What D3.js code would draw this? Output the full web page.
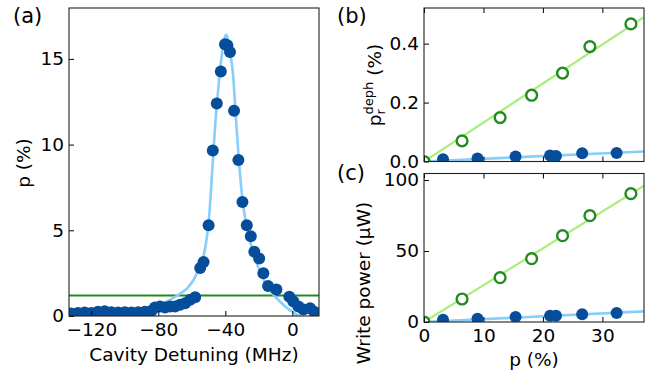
<!DOCTYPE html>
<html>
<head>
<meta charset="utf-8">
<script src="https://cdn.jsdelivr.net/npm/d3@7"></script>
<style>
  body { margin: 0; background: #fff; }
  svg text { font-family: "DejaVu Sans", sans-serif; fill: #000; }
</style>
</head>
<body>
<div id="chart"></div>
<script>
// panel (a): excitation probability vs cavity detuning
var detuning = [-132, -128, -124, -120, -116, -112, -108, -104, -100, -96, -92, -88, -84,
  -82, -79, -76, -73, -70, -67, -64, -61, -58, -55, -53, -50, -47.5, -45.1, -42.7,
  -40.2, -38.8, -37.2, -34.8, -32.2, -29.8, -27.2, -24.8, -22.7, -19.8, -17.3, -14.5,
  -9.5, -1.8, 0.6, 3.6, 6.6, 10.6, 13];
var pExc = [0.15, 0.18, 0.2, 0.17, 0.25, 0.28, 0.22, 0.2, 0.22, 0.2, 0.22, 0.25, 0.3,
  0.5, 0.55, 0.5, 0.55, 0.55, 0.65, 0.75, 0.95, 1.1, 2.8, 3.15, 5.3, 9.65, 12.4, 14.26,
  15.85, 15.8, 15.4, 11.98, 9.1, 6.65, 5.3, 4.65, 3.75, 3.35, 2.5, 1.75,
  1.55, 1.12, 0.85, 0.55, 0.38, 0.45, 0.25];
var fitDetuning = [-133, -120, -105, -95, -88, -82, -77, -72, -67, -63, -59, -56, -53, -51,
  -49.5, -48, -46, -44, -42, -40.5, -39.3, -38, -37, -35.5, -33.5, -32, -30, -28, -26,
  -24, -21, -18, -15, -11, -7, -3, 0, 4, 10, 16];
var fitP = [0.1, 0.15, 0.22, 0.3, 0.4, 0.55, 0.75, 1.0, 1.3, 1.6, 2.1, 2.7, 3.5, 4.6,
  6.0, 8.2, 11.2, 13.5, 15.3, 16.2, 16.4, 15.9, 15.3, 14.2, 11.3, 9.2, 7.0, 5.6, 4.7,
  3.9, 3.0, 2.3, 1.7, 1.2, 0.8, 0.45, 0.25, 0.0, -0.3, -0.5];
var thresholdP = 1.2;
var xTicksA = [-120, -80, -40, 0];
var yTicksA = [0, 5, 10, 15];

// panels (b) and (c): against p
var pGreen = [0, 6.4, 12.8, 18.1, 23.3, 27.9, 34.8];
var pBlue = [3.2, 9.0, 15.4, 21.2, 22.2, 26.6, 32.4];
var dephGreen = [0, 0.07, 0.149, 0.225, 0.30, 0.39, 0.467];
var dephBlue = [0.008, 0.010, 0.017, 0.020, 0.019, 0.028, 0.029];
var powerGreen = [0, 16.2, 31.2, 44.6, 60.8, 74.9, 90.4];
var powerBlue = [1.6, 2.3, 3.5, 4.4, 4.4, 5.4, 6.3];
var fitRange = [0, 37];
var dephGreenFit = [0, 0.49];
var dephBlueFit = [0, 0.034];
var powerGreenFit = [0, 96];
var powerBlueFit = [0, 7.5];
var xTicksBC = [0, 10, 20, 30];
var yTicksB = [0, 0.2, 0.4];
var yTicksC = [0, 50, 100];

var darkBlue = "#064e9b", lightBlue = "#87cefa", darkGreen = "#228b22", lightGreen = "#a8ee7c";
var fs = 18.5;

var svg = d3.select("#chart").append("svg").attr("width", 654).attr("height", 377);

var xA = d3.scaleLinear().domain([-133.3, 15.9]).range([69, 319]);
var yA = d3.scaleLinear().domain([0, 17.97]).range([316, 8]);
var xB = d3.scaleLinear().domain([0, 37]).range([424, 644]);
var yB = d3.scaleLinear().domain([0, 0.521]).range([161.5, 8]);
var yC = d3.scaleLinear().domain([0, 104.6]).range([322, 173.5]);

var defs = svg.append("defs");
function clip(id, x, y) {
  defs.append("clipPath").attr("id", id).append("rect")
    .attr("x", x.range()[0]).attr("y", y.range()[1])
    .attr("width", x.range()[1] - x.range()[0]).attr("height", y.range()[0] - y.range()[1]);
}
clip("ca", xA, yA); clip("cb", xB, yB); clip("cc", xB, yC);

function axes(x, y, xt, yt, yfmt, showX, topTicks) {
  var gx = svg.append("g").attr("transform", "translate(0," + y.range()[0] + ")")
    .call(d3.axisBottom(x).tickValues(xt).tickSize(-5).tickPadding(7)
      .tickFormat(showX ? d3.format("d") : ""));
  var gy = svg.append("g").attr("transform", "translate(" + x.range()[0] + ",0)")
    .call(d3.axisLeft(y).tickValues(yt).tickSize(-5).tickPadding(5).tickFormat(yfmt));
  var gs = [gx, gy];
  if (topTicks) {
    gs.push(svg.append("g").attr("transform", "translate(0," + y.range()[1] + ")")
      .call(d3.axisTop(x).tickValues(xt).tickSize(-5).tickFormat("")));
  }
  gs.forEach(function (g) {
    g.select(".domain").remove();
    g.selectAll("line").attr("stroke", "#000").attr("stroke-width", 1);
    g.selectAll("text").attr("font-size", fs).attr("font-family", "DejaVu Sans").attr("fill", "#000");
  });
  svg.append("rect").attr("x", x.range()[0]).attr("y", y.range()[1])
    .attr("width", x.range()[1] - x.range()[0]).attr("height", y.range()[0] - y.range()[1])
    .attr("fill", "none").attr("stroke", "#222").attr("stroke-width", 1.1);
}

// ---- panel (a)
var pa = svg.append("g").attr("clip-path", "url(#ca)");
pa.append("line").attr("x1", xA.range()[0]).attr("x2", xA.range()[1])
  .attr("y1", yA(thresholdP)).attr("y2", yA(thresholdP))
  .attr("stroke", darkGreen).attr("stroke-width", 2);
pa.append("path").datum(d3.zip(fitDetuning, fitP))
  .attr("d", d3.line().x(function (d) { return xA(d[0]); }).y(function (d) { return yA(d[1]); }).curve(d3.curveMonotoneX))
  .attr("fill", "none").attr("stroke", lightBlue).attr("stroke-width", 2.6);
pa.selectAll("circle").data(d3.zip(detuning, pExc)).enter().append("circle")
  .attr("cx", function (d) { return xA(d[0]); }).attr("cy", function (d) { return yA(d[1]); })
  .attr("r", 6).attr("fill", darkBlue);
axes(xA, yA, xTicksA, yTicksA, d3.format("d"), true, false);

// ---- panels (b) and (c)
function lowerPanel(y, id, gFit, bFit, gVals, bVals, yt, yfmt, showX) {
  var g = svg.append("g").attr("clip-path", "url(#" + id + ")");
  var line = d3.line().x(function (d) { return xB(d[0]); }).y(function (d) { return y(d[1]); });
  g.append("path").datum(d3.zip(fitRange, gFit)).attr("d", line)
    .attr("fill", "none").attr("stroke", lightGreen).attr("stroke-width", 2.2);
  g.append("path").datum(d3.zip(fitRange, bFit)).attr("d", line)
    .attr("fill", "none").attr("stroke", lightBlue).attr("stroke-width", 2.6);
  g.selectAll(".bl").data(d3.zip(pBlue, bVals)).enter().append("circle")
    .attr("cx", function (d) { return xB(d[0]); }).attr("cy", function (d) { return y(d[1]); })
    .attr("r", 6).attr("fill", darkBlue);
  g.selectAll(".gr").data(d3.zip(pGreen, gVals)).enter().append("circle")
    .attr("cx", function (d) { return xB(d[0]); }).attr("cy", function (d) { return y(d[1]); })
    .attr("r", 5.4).attr("fill", "#fff").attr("stroke", darkGreen).attr("stroke-width", 2.4);
  axes(xB, y, xTicksBC, yt, yfmt, showX, true);
}
lowerPanel(yB, "cb", dephGreenFit, dephBlueFit, dephGreen, dephBlue, yTicksB, d3.format(".1f"), false);
lowerPanel(yC, "cc", powerGreenFit, powerBlueFit, powerGreen, powerBlue, yTicksC, d3.format("d"), true);

// ---- labels
svg.append("text").attr("x", 13).attr("y", 23).attr("font-size", 21).text("(a)");
svg.append("text").attr("x", 337).attr("y", 23).attr("font-size", 21).text("(b)");
svg.append("text").attr("x", 337).attr("y", 180).attr("font-size", 21).text("(c)");

svg.append("text").attr("x", 194).attr("y", 361).attr("text-anchor", "middle")
  .attr("font-size", fs).text("Cavity Detuning (MHz)");
svg.append("text").attr("x", 534).attr("y", 366).attr("text-anchor", "middle")
  .attr("font-size", fs).text("p (%)");
svg.append("text").attr("transform", "translate(30,163) rotate(-90)").attr("text-anchor", "middle")
  .attr("font-size", fs).text("p (%)");
svg.append("text").attr("transform", "translate(370,283) rotate(-90)").attr("text-anchor", "middle")
  .attr("font-size", fs).text("Write power (\u03bcW)");

// p_r^deph (%) built from pieces, then centred
var yl = svg.append("g").attr("transform", "translate(381,85) rotate(-90)");
var t0 = yl.append("text").attr("font-size", fs).text("p");
var w0 = t0.node().getComputedTextLength();
var tr = yl.append("text").attr("x", w0).attr("y", 4).attr("font-size", 13).text("r");
var td = yl.append("text").attr("x", w0).attr("y", -8).attr("font-size", 13).text("deph");
var w1 = Math.max(tr.node().getComputedTextLength(), td.node().getComputedTextLength());
var tp = yl.append("text").attr("x", w0 + w1).attr("font-size", fs).text("\u00a0(%)");
var total = w0 + w1 + tp.node().getComputedTextLength();
yl.selectAll("text").attr("transform", "translate(" + (-total / 2) + ",0)");
</script>
</body>
</html>
